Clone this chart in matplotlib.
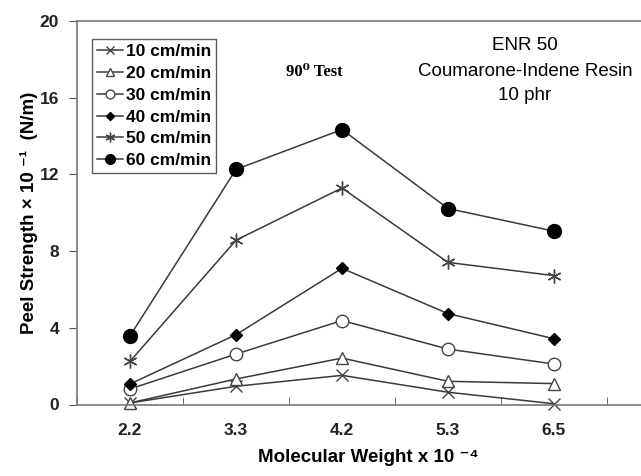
import matplotlib
matplotlib.use("Agg")
from matplotlib import pyplot as plt
import numpy as np

# molecular weight categories (x 10^-4)
mw = ["2.2", "3.3", "4.2", "5.3", "6.5"]

# peel strength x 10^-1 (N/m) for each rate
rate_10 = [0.08, 0.95, 1.52, 0.64, 0.04]
rate_20 = [0.08, 1.33, 2.42, 1.21, 1.09]
rate_30 = [0.81, 2.63, 4.38, 2.89, 2.11]
rate_40 = [1.07, 3.64, 7.10, 4.74, 3.43]
rate_50 = [2.25, 8.57, 11.29, 7.41, 6.72]
rate_60 = [3.58, 12.26, 14.34, 10.22, 9.04]

labels = ["10 cm/min", "20 cm/min", "30 cm/min", "40 cm/min", "50 cm/min", "60 cm/min"]

plt.rcParams['font.family'] = ['Liberation Sans', 'DejaVu Sans']

W, H = 641, 476
fig = plt.figure(figsize=(W/100, H/100), dpi=100)
ax = fig.add_axes([77/W, 1-404.5/H, (660-77)/W, (404.5-21)/H])

x = np.arange(len(mw)) + 0.5
lc = "#3a3a3a"
styles = [
    dict(marker="x", ms=8, mfc="none", mec="#444444", mew=1.0),
    dict(marker="^", ms=8, mfc="white", mec="#444444", mew=1.0),
    dict(marker="o", ms=9, mfc="white", mec="#444444", mew=1.0),
    dict(marker="D", ms=6, mfc="black", mec="black", mew=1.0),
    dict(marker=(6, 2, 0), ms=10, mfc="none", mec="#444444", mew=1.0),
    dict(marker="o", ms=10, mfc="black", mec="black", mew=1.0),
]
series = [rate_10, rate_20, rate_30, rate_40, rate_50, rate_60]
for y, lab, st in zip(series, labels, styles):
    ax.plot(x, y, color=lc, lw=1.1, label=lab, clip_on=False, **st)

ax.set_xlim(0, 5.5)
ax.set_ylim(0, 20)
ax.set_yticks([0, 4, 8, 12, 16, 20])
ax.set_xticks(x)
ax.set_xticklabels(mw)
ax.set_xticks(np.arange(0, 6), minor=True)
ax.tick_params(axis="x", which="major", length=0, pad=13, labelsize=12.5)
ax.tick_params(axis="x", which="minor", direction="in", length=6, color="#555555")
ax.tick_params(axis="y", direction="out", length=6, color="#555555", labelsize=12.5, pad=7)
for t in ax.get_xticklabels() + ax.get_yticklabels():
    t.set_fontweight("bold")
    t.set_color("#222222")

for s in ["top", "left", "bottom"]:
    ax.spines[s].set_color("#777777")
    ax.spines[s].set_linewidth(1.2)
ax.spines["right"].set_visible(False)

ax.set_ylabel("Peel Strength \u00d7 10 \u207b\u00b9  (N/m)", fontsize=13.5, fontweight="bold", labelpad=1)
ax.set_xlabel("Molecular Weight x 10 \u207b\u2074", fontsize=13.5, fontweight="bold", labelpad=8)

leg = ax.legend(loc="upper left", bbox_to_anchor=(0.026, 0.953), frameon=True, fancybox=False,
                edgecolor="#333333", handlelength=1.5, handletextpad=0.15, borderpad=0.3,
                borderaxespad=0, labelspacing=0.38, markerscale=0.7,
                prop={"weight": "bold", "size": 12.5})
leg.get_frame().set_linewidth(1.0)

fig.text(314/W, 1-72/H, "90\u2070 Test", family=["Liberation Serif", "DejaVu Serif"],
         fontweight="bold", fontsize=12, ha="center", va="center")
fig.text(525/W, 1-46/H, "ENR 50", fontsize=13.5, ha="center", va="center")
fig.text(525/W, 1-71/H, "Coumarone-Indene Resin", fontsize=13.5, ha="center", va="center")
fig.text(525/W, 1-96/H, "10 phr", fontsize=13.5, ha="center", va="center")

fig.savefig("out.png", dpi=100)
